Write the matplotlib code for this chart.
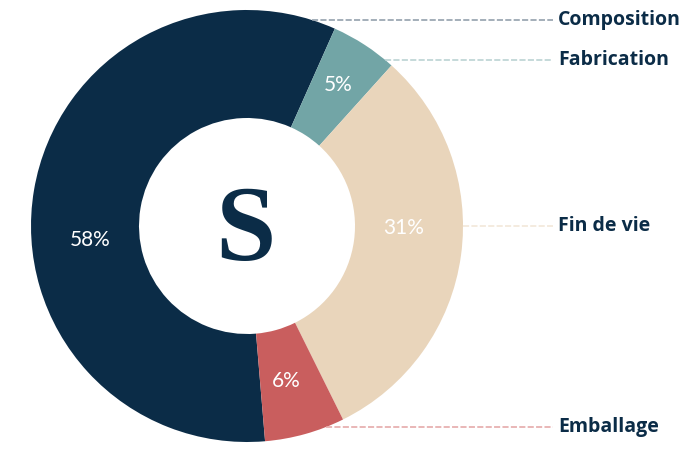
import matplotlib
matplotlib.use("Agg")
import matplotlib.pyplot as plt
import numpy as np

categories = ["Composition", "Fabrication", "Fin de vie", "Emballage"]
values = [58, 5, 31, 6]
colors = ["#0B2C47", "#72A5A6", "#E9D5BB", "#C95E5E"]
line_colors = ["#8A98A6", "#B5CFD0", "#F1E5D6", "#E3A3A3"]
label_y = [20, 60, 226, 427]  # pixel rows for labels (from top)
pct_pos = [(90, 240), (338, 85), (404, 228), (286, 381)]  # label anchor pixels

W, H = 696, 450
fig = plt.figure(figsize=(W / 100, H / 100), dpi=100)
ax = fig.add_axes([0, 0, 1, 1])
ax.set_xlim(0, W)
ax.set_ylim(0, H)
ax.axis("off")

cx, cy = 247, H - 226
R = 216
ring = 108

wedges, texts, autotexts = ax.pie(
    values, colors=colors, startangle=-85.2, counterclock=False,
    center=(cx, cy), radius=R, frame=False,
    wedgeprops=dict(width=ring, edgecolor="none"),
    autopct=lambda p: f"{p:.0f}%", pctdistance=0.745,
    textprops=dict(color="white", fontsize=15, family="Lato", fontweight="normal"),
)
for t, (px, py) in zip(autotexts, pct_pos):
    t.set_position((px, H - py))
ax.set_xlim(0, W)
ax.set_ylim(0, H)
ax.set_aspect("equal")

for cat, ly, lc in zip(categories, label_y, line_colors):
    y = H - ly
    dy = y - cy
    x0 = cx + np.sqrt(max(R**2 - dy**2, 0))
    ax.plot([x0, 553], [y, y], color=lc, lw=1.1, ls=(0, (4, 1.5)), zorder=1)
    ax.text(558, y, cat, fontsize=14, family="Open Sans", fontweight="bold",
            color="#0B2C47", va="center", ha="left")

ax.text(245, H - 260, "S", fontsize=78, family="Liberation Serif",
        fontweight="bold", color="#0B2C47", ha="center", va="baseline")

fig.savefig("out.png", dpi=100)
